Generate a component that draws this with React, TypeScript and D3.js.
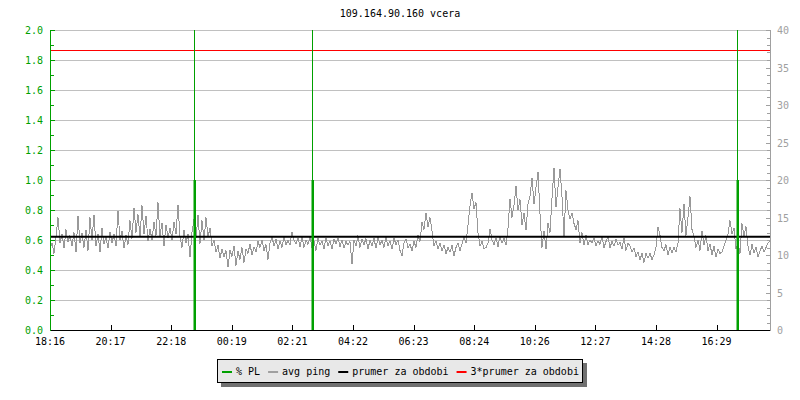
import React from "react";
import * as d3 from "d3";

const TITLE = "109.164.90.160 vcera";
const RANGE_MIN = 1440;
const SAMPLE_STEP = 4; // minutes between ping samples
const pingValues: number[] = [
  10.8, 11.6, 10.2, 12.4, 15.0, 11.6, 12.8, 10.9, 13.4, 11.8,
  12.6, 11.2, 13.0, 10.4, 15.2, 11.6, 12.9, 11.0, 13.3, 10.6,
  15.0, 12.0, 15.3, 11.2, 12.8, 10.4, 13.6, 11.5, 12.4, 10.9,
  13.1, 11.6, 12.8, 11.2, 15.9, 12.0, 13.2, 10.9, 12.6, 11.4,
  14.6, 12.2, 16.3, 13.0, 15.4, 12.4, 16.6, 12.8, 15.2, 11.9,
  13.5, 12.0, 14.4, 12.6, 17.0, 12.5, 14.3, 11.2, 14.0, 12.3,
  13.6, 12.0, 14.4, 12.8, 16.7, 12.4, 11.0, 13.3, 11.6, 12.8,
  9.7, 13.0, 14.8, 12.2, 15.3, 11.5, 14.6, 12.0, 15.0, 12.4,
  13.6, 11.2, 12.0, 10.4, 11.3, 9.6, 10.8, 9.8, 10.6, 8.4,
  10.6, 9.8, 11.2, 8.6, 10.5, 9.4, 11.0, 9.0, 10.8, 10.2,
  11.5, 10.0, 11.1, 10.4, 11.8, 11.0, 12.0, 10.6, 11.4, 9.4,
  11.6, 12.4, 11.2, 12.1, 10.8, 11.9, 11.0, 12.4, 11.3, 12.0,
  11.3, 13.1, 12.0, 11.5, 12.3, 11.1, 12.4, 11.0, 12.0, 11.4,
  12.4, 11.0, 11.9, 10.6, 12.2, 11.3, 11.9, 10.8, 12.3, 11.2,
  11.9, 10.8, 12.1, 11.5, 12.3, 11.1, 12.0, 10.9, 11.8, 11.3,
  11.8, 8.8, 12.0, 11.2, 12.6, 11.0, 12.1, 11.4, 12.2, 10.8,
  12.0, 11.2, 12.2, 10.9, 12.4, 11.3, 12.0, 11.0, 12.4, 11.2,
  11.9, 10.8, 12.2, 11.4, 12.0, 10.6, 9.9, 11.6, 12.1, 11.0,
  11.4, 10.6, 11.8, 11.0, 12.6, 11.8, 14.4, 13.4, 15.6, 13.8,
  15.0, 13.2, 11.2, 11.9, 10.8, 11.6, 10.5, 11.3, 10.2, 11.0,
  10.4, 11.3, 9.9, 11.0, 11.6, 10.6, 11.5, 12.4, 11.6, 14.0,
  16.5, 18.3, 16.2, 17.0, 13.0, 11.2, 11.8, 10.8, 11.0, 11.6,
  13.5, 12.0, 11.4, 12.3, 11.1, 12.5, 11.6, 12.2, 11.3, 13.6,
  17.5, 15.0, 16.6, 19.2, 16.0, 17.4, 14.0, 15.6, 13.3, 16.8,
  17.8, 20.3, 16.8, 19.0, 21.1, 15.5, 11.0, 13.2, 10.8, 14.2,
  13.0, 17.6, 21.6, 16.4, 19.0, 21.5, 17.8, 12.5, 18.6, 16.0,
  14.8, 15.6, 14.2, 13.4, 14.6, 11.6, 13.0, 11.3, 12.6, 11.4,
  12.0, 11.6, 12.3, 11.2, 11.9, 11.4, 12.5, 11.0, 11.8, 12.4,
  11.0, 11.8, 11.2, 12.1, 11.3, 11.7, 10.8, 12.3, 10.6, 11.6,
  11.2, 10.4, 10.9, 9.8, 10.4, 9.4, 10.2, 9.0, 10.2, 9.6,
  10.2, 9.4, 10.0, 11.0, 13.7, 12.6, 11.0, 10.6, 11.4, 10.0,
  11.1, 10.3, 11.0, 10.4, 11.6, 16.2, 13.0, 16.8, 12.6, 15.0,
  17.8, 13.4, 12.4, 11.0, 12.0, 10.6, 13.2, 11.4, 12.6, 10.6,
  11.5, 10.0, 11.2, 9.7, 10.8, 10.2, 10.4, 11.2, 12.0, 12.8,
  14.6, 12.8, 13.6, 10.8, 11.6, 10.2, 14.2, 12.5, 13.8, 11.2,
  10.0, 11.4, 10.3, 11.0, 9.8, 10.5, 11.2, 10.4, 11.0, 11.6,
  11.9,
];
const plTimes = [288.6, 524.6, 1374];
const plValues = [1.0, 1.0, 1.0];
const avgPing = 12.45;
const xTickLabels = ["18:16", "20:17", "22:18", "00:19", "02:21", "04:22", "06:23", "08:24", "10:26", "12:27", "14:28", "16:29"];
const xTickStep = 121.2;
const leftTicks = [0, 0.2, 0.4, 0.6, 0.8, 1.0, 1.2, 1.4, 1.6, 1.8, 2.0];
const rightTicks = [0, 5, 10, 15, 20, 25, 30, 35, 40];
const legendItems = [
  { label: "% PL", color: "#00a000" },
  { label: "avg ping", color: "#a0a0a0" },
  { label: "prumer za obdobi", color: "#000000" },
  { label: "3*prumer za obdobi", color: "#ff0000" },
];

const GREEN = "#00a000";
const GRID = "#c0c0c0";
const FONT = "DejaVu Sans Mono, monospace";

export default function App() {
  const x = d3.scaleLinear().domain([0, RANGE_MIN]).range([50, 770]);
  const yL = d3.scaleLinear().domain([0, 2]).range([330, 30]);
  const yR = d3.scaleLinear().domain([0, 40]).range([330, 30]);

  const line = d3
    .line<number>()
    .x((_, i) => x(i * SAMPLE_STEP))
    .y((d) => yR(d));

  const leftMinor = d3.range(0.1, 2.0, 0.2);
  const rightMinor = d3.range(0, 41, 1).filter((v) => v % 5 !== 0);

  const charW = 6.02;
  let lx = 222;
  const legendPos = legendItems.map((it) => {
    const p = { ...it, x: lx };
    lx += 14 + it.label.length * charW + 8;
    return p;
  });

  return (
    <svg
      width={800}
      height={400}
      style={{ position: "fixed", left: 0, top: 0, background: "#fff" }}
      fontFamily={FONT}
      fontSize={10}
    >
      <rect width={800} height={400} fill="#fff" />
      <text x={400} y={17} textAnchor="middle" fill="#000">
        {TITLE}
      </text>
      {leftTicks.map((t) => (
        <line key={"g" + t} x1={50} x2={770} y1={Math.round(yL(t)) + 0.5} y2={Math.round(yL(t)) + 0.5} stroke={GRID} />
      ))}
      <path d={line(pingValues) || ""} fill="none" stroke="#999999" strokeWidth={1} shapeRendering="crispEdges" />
      <line x1={50} x2={770} y1={yR(avgPing)} y2={yR(avgPing)} stroke="#000" strokeWidth={2} />
      <line x1={50} x2={770} y1={Math.round(yR(avgPing * 3)) + 0.5} y2={Math.round(yR(avgPing * 3)) + 0.5} stroke="#ff0000" strokeWidth={1} />
      {plTimes.map((t, i) => (
        <g key={"pl" + i}>
          <line x1={Math.round(x(t)) + 0.5} x2={Math.round(x(t)) + 0.5} y1={30} y2={330} stroke={GREEN} strokeWidth={1} />
          <rect x={Math.round(x(t)) - 0.5} y={yL(plValues[i])} width={2.5} height={330 - yL(plValues[i])} fill={GREEN} />
        </g>
      ))}
      <line x1={50.5} x2={50.5} y1={30} y2={331} stroke={GREEN} />
      {leftTicks.map((t) => (
        <g key={"lt" + t}>
          <line x1={50} x2={55} y1={Math.round(yL(t)) + 0.5} y2={Math.round(yL(t)) + 0.5} stroke={GREEN} />
          <text x={43} y={yL(t) + 4} textAnchor="end" fill={GREEN}>
            {t.toFixed(1)}
          </text>
        </g>
      ))}
      {leftMinor.map((t) => (
        <line key={"lm" + t} x1={50} x2={54} y1={Math.round(yL(t)) + 0.5} y2={Math.round(yL(t)) + 0.5} stroke={GREEN} />
      ))}
      <line x1={770.5} x2={770.5} y1={30} y2={331} stroke="#a0a0a0" />
      {rightTicks.map((t) => (
        <g key={"rt" + t}>
          <line x1={766} x2={771} y1={Math.round(yR(t)) + 0.5} y2={Math.round(yR(t)) + 0.5} stroke="#a0a0a0" />
          <text x={777} y={yR(t) + 4} textAnchor="start" fill="#a0a0a0">
            {t}
          </text>
        </g>
      ))}
      {rightMinor.map((t) => (
        <line key={"rm" + t} x1={767} x2={771} y1={Math.round(yR(t)) + 0.5} y2={Math.round(yR(t)) + 0.5} stroke="#a0a0a0" />
      ))}
      <line x1={51} x2={770} y1={330.5} y2={330.5} stroke="#000" />
      {xTickLabels.map((lab, k) => {
        const px = Math.round(x(k * xTickStep)) + 0.5;
        return (
          <g key={"xt" + k}>
            {k > 0 && <line x1={px} x2={px} y1={325} y2={331} stroke="#000" />}
            <text x={x(k * xTickStep)} y={345} textAnchor="middle" fill="#000">
              {lab}
            </text>
          </g>
        );
      })}
      <rect x={221} y={363} width={366} height={24} fill="#707070" />
      <rect x={217.5} y={359.5} width={365} height={23} fill="#e8e8e8" stroke="#000" />
      {legendPos.map((it) => (
        <g key={it.label}>
          <line x1={it.x} x2={it.x + 10} y1={372} y2={372} stroke={it.color} strokeWidth={2} />
          <text x={it.x + 14} y={375} fill="#000">
            {it.label}
          </text>
        </g>
      ))}
    </svg>
  );
}
